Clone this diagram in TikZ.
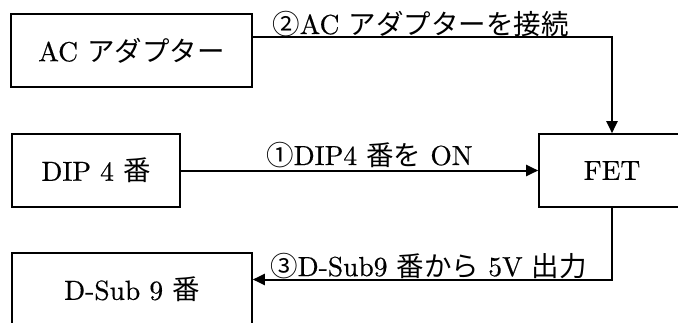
\documentclass[tikz,border=0pt]{standalone}
\usepackage{fontspec}
\setmainfont{Latin Modern Roman}[OpticalSize=10,FakeBold=0.5]
\newfontfamily\jpfont{Noto Sans CJK JP}
\usetikzlibrary{arrows.meta}
\newcommand{\ja}[1]{{\jpfont #1}}
\tikzset{
  unit/.style={draw, line width=1.6pt, minimum height=73pt, inner sep=0pt, font=\fontsize{27.5}{31}\selectfont},
  conn/.style={line width=2pt, -{Triangle[length=12pt,width=11pt]}},
  lbl/.style={inner sep=0pt, anchor=base west, font=\fontsize{27.5}{31}\selectfont}
}

\begin{document}
\begin{tikzpicture}[x=1pt,y=-1pt]
    %frame
    \useasboundingbox (0,0) rectangle (678,322);
    %boxes
    \node[unit, minimum width=241pt] (ac) at (131.5,50.5) {AC \ja{アダプター}};
    \node[unit, minimum width=168pt] (dip) at (96,170.5) {DIP 4 \ja{番}};
    \node[unit, minimum width=146pt] (fet) at (612,170.5) {FET};
    \node[unit, minimum width=240pt] (dsub) at (132,289.5) {D-Sub 9 \ja{番}};
    %connectors
    \draw[conn] ([yshift=-24pt]ac.north east) -| (fet.north);
    \draw[conn] (dip) -- (fet);
    \draw[conn] (fet.south) |- ([yshift=10pt]dsub.east);
    %labels
    \node[lbl] (l2) at (272,34) {\ja{②}AC \ja{アダプターを接続}};
    \node[lbl] (l1) at (266,165) {\ja{①}DIP4 \ja{番を} ON};
    \node[lbl] (l3) at (270,276) {\ja{③}D-Sub9 \ja{番から} 5V \ja{出力}};
\end{tikzpicture}
\end{document}
